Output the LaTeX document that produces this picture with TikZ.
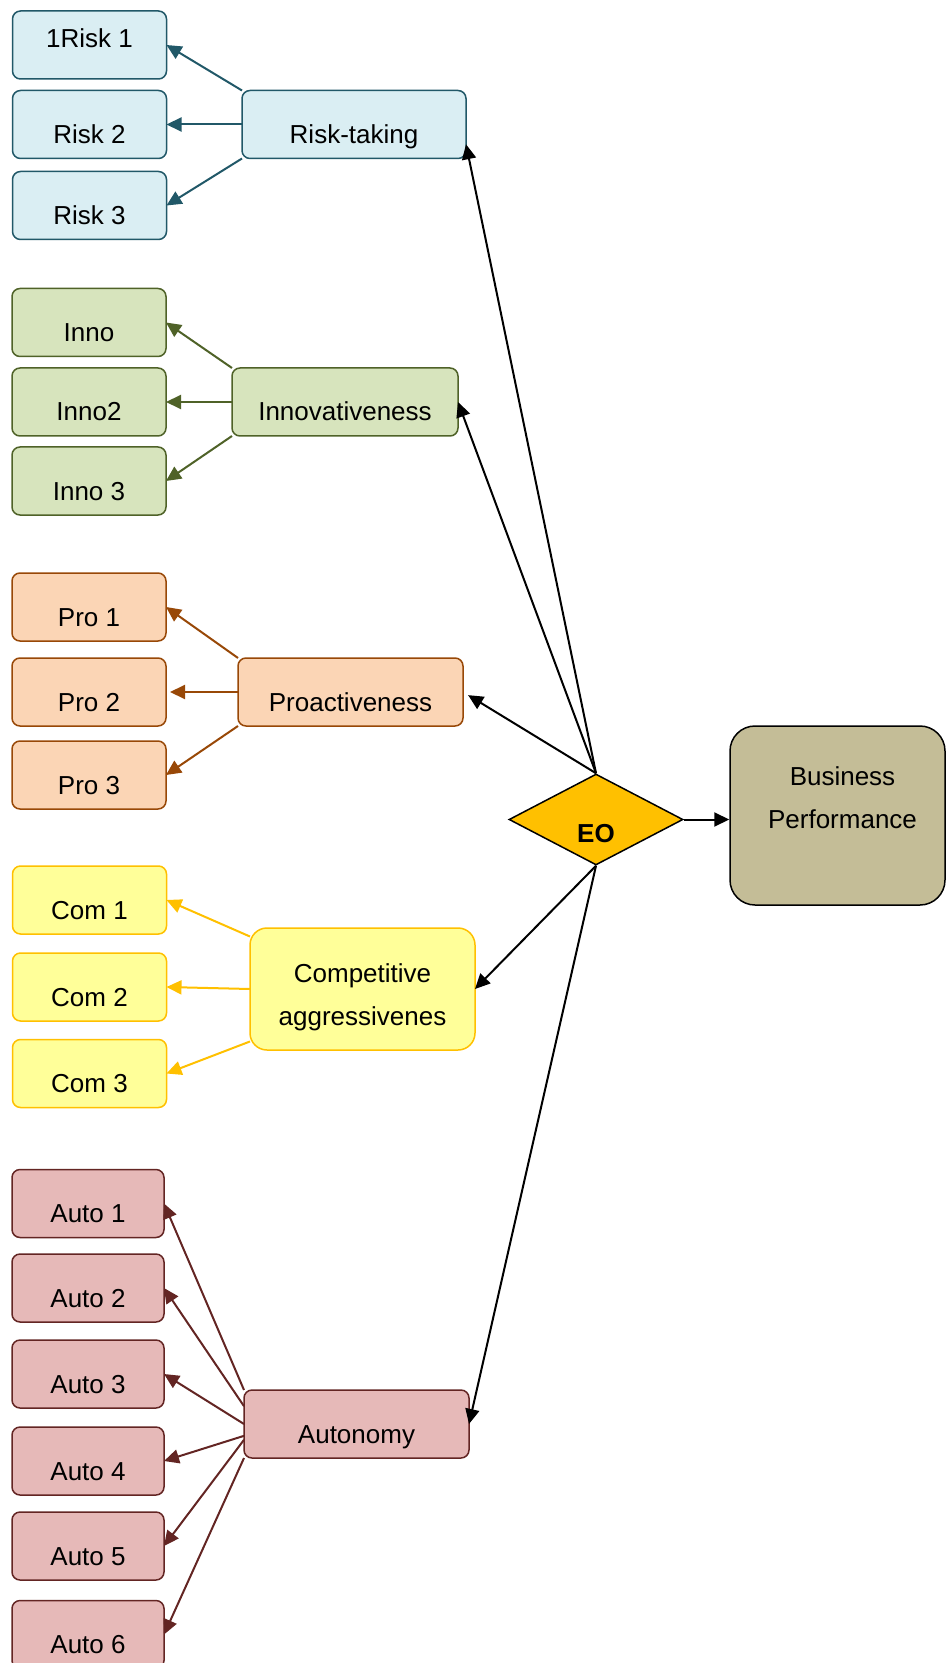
\documentclass[tikz,border=0pt]{standalone}
\usepackage{fontspec}
\setmainfont{Liberation Sans}
\usepackage{tikz}
\usetikzlibrary{arrows.meta}
\usetikzlibrary{shapes.geometric,positioning}

\definecolor{riskfill}{HTML}{DAEEF3}
\definecolor{riskline}{HTML}{215868}
\definecolor{innofill}{HTML}{D7E4BD}
\definecolor{innoline}{HTML}{4F6228}
\definecolor{profill}{HTML}{FBD5B5}
\definecolor{proline}{HTML}{984807}
\definecolor{comfill}{HTML}{FFFF99}
\definecolor{comline}{HTML}{FFC000}
\definecolor{autofill}{HTML}{E6B9B8}
\definecolor{autoline}{HTML}{632523}
\definecolor{eofill}{HTML}{FFC000}
\definecolor{bpfill}{HTML}{C4BD97}

\begin{document}
\begin{tikzpicture}[
        x=0.5pt, y=-0.5pt,
        font=\fontsize{13pt}{21.5pt}\selectfont,
        item/.style={rectangle, rounded corners=4pt, line width=0.75pt, outer sep=0pt, minimum width=77pt, minimum height=34pt, inner ysep=0pt, text height=26.5pt, text depth=7.5pt},
        factor/.style={item, minimum width=112.5pt},
        link/.style={-{Triangle[length=7.5pt,width=7pt]}, line width=1pt},
        risk/.style={fill=riskfill, draw=riskline},
        inno/.style={fill=innofill, draw=innoline},
        pro/.style={fill=profill, draw=proline},
        com/.style={fill=comfill, draw=comline},
        auto/.style={fill=autofill, draw=autoline}
      ]
        \useasboundingbox (0,0) rectangle (946,1663);

        \node (r1) [item, risk, text height=18.5pt, text depth=15.5pt] at (89.5,45) {1Risk 1};
        \node (r2) [item, risk, below=5.75pt of r1] {Risk 2};
        \node (r3) [item, risk, below=6.5pt of r2] {Risk 3};
        \node (rt) [factor, risk, minimum width=112pt] at (354,124.5) {Risk-taking};

        \draw[link, riskline] (rt.north west) -- (r1.east);
        \draw[link, riskline] (rt.west) -- (r2.east);
        \draw[link, riskline] (rt.south west) -- (r3.east);

        \node (in1) [item, inno] at (89,322.5) {Inno};
        \node (in2) [item, inno, below=5.75pt of in1] {Inno2};
        \node (in3) [item, inno, below=5.5pt of in2] {Inno 3};
        \node (inn) [factor, inno, minimum width=113pt] at (345,402) {Innovativeness};

        \draw[link, innoline] (inn.north west) -- (in1.east);
        \draw[link, innoline] (inn.west) -- (in2.east);
        \draw[link, innoline] (inn.south west) -- (in3.east);

        \node (p1) [item, pro] at (89,607) {Pro 1};
        \node (p2) [item, pro, below=8.5pt of p1] {Pro 2};
        \node (p3) [item, pro, below=7.5pt of p2] {Pro 3};
        \node (pa) [factor, pro] at (350.5,692) {Proactiveness};

        \draw[link, proline] (pa.north west) -- (p1.east);
        \draw[link, proline, shorten >=2pt] (pa.west) -- (p2.east);
        \draw[link, proline] (pa.south west) -- (p3.east);

        \node (c1) [item, com] at (89.5,900) {Com 1};
        \node (c2) [item, com, below=9.5pt of c1] {Com 2};
        \node (c3) [item, com, below=9.25pt of c2] {Com 3};
        \node (cag) [factor, com, rounded corners=8.5pt, minimum height=61pt, text height=, text depth=, align=center] at (362.5,989) {\rule{0pt}{18pt}Competitive\\aggressivenes};

        \draw[link, comline] (cag.155) -- (c1.east);
        \draw[link, comline] (cag.west) -- (c2.east);
        \draw[link, comline] (cag.205) -- (c3.east);

        \node (a1) [item, auto, minimum width=76pt] at (88,1203.5) {Auto 1};
        \node (a2) [item, auto, minimum width=76pt, below=8.25pt of a1] {Auto 2};
        \node (a3) [item, auto, minimum width=76pt, below=9pt of a2] {Auto 3};
        \node (a4) [item, auto, minimum width=76pt, below=9.5pt of a3] {Auto 4};
        \node (a5) [item, auto, minimum width=76pt, below=8.5pt of a4] {Auto 5};
        \node (a6) [item, auto, minimum width=76pt, below=10.25pt of a5] {Auto 6};
        \node (au) [factor, auto] at (356.5,1424) {Autonomy};

        \draw[link, autoline] (au.north west) -- (a1.east);
        \draw[link, autoline] (au.171) -- (a2.east);
        \draw[link, autoline] (au.west) -- (a3.east);
        \draw[link, autoline] (au.186) -- (a4.east);
        \draw[link, autoline] (au.188) -- (a5.east);
        \draw[link, autoline] (au.south west) -- (a6.east);

        \node (eo) [diamond, draw, fill=eofill, line width=0.75pt, minimum width=87pt, minimum height=45.5pt, inner sep=0pt, text height=23pt, text depth=0pt, font=\fontsize{13pt}{15pt}\selectfont\bfseries] at (596,819.5) {EO};
        \node (bp) [rectangle, draw, fill=bpfill, line width=0.75pt, rounded corners=12.5pt, minimum width=107.5pt, minimum height=89.5pt, align=center] at (837.5,815.5) {\hspace{5pt}Business\\\hspace{5pt}Performance\rule[-17.5pt]{0pt}{17.5pt}};

        \draw[link] (eo.north) -- (rt.350);
        \draw[link] (eo.north) -- (inn.east);
        \draw[link, shorten >=3pt] (eo.north) -- (pa.east);
        \draw[link] (eo.south) -- (cag.east);
        \draw[link] (eo.south) -- (au.east);
        \draw[link] (eo.east) -- (eo.east -| bp.west);
      \end{tikzpicture}
\end{document}
